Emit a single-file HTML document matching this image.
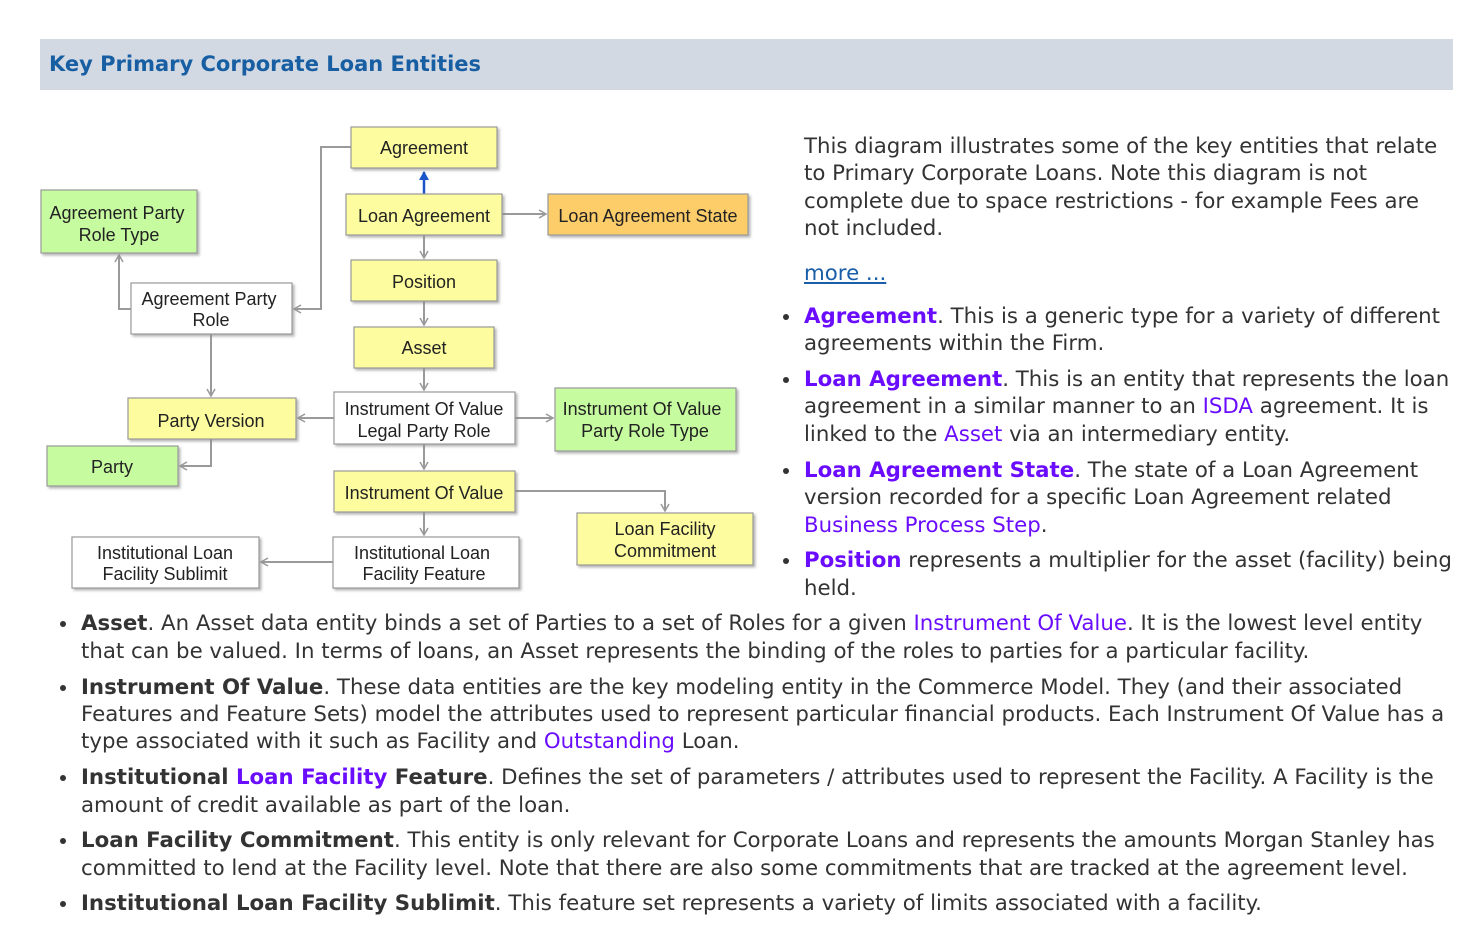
<!DOCTYPE html><html><head><style>
body{margin:0;width:1470px;height:951px;background:#fff;position:relative;overflow:hidden;font-family:"DejaVu Sans","Liberation Sans",sans-serif;color:#333}
.hdr{position:absolute;left:40px;top:39px;width:1413px;height:51px;background:#d3d9e2}
.hdr span{position:absolute;left:9px;top:13px;font-weight:bold;font-size:21px;color:#175ea3}
.l{position:absolute;white-space:nowrap;font-size:21.3px;line-height:25px}
.p{color:#6a0dff}.b{font-weight:bold}
.dot{position:absolute;width:6px;height:6px;border-radius:50%;background:#333}
</style></head><body>
<div class="hdr"><span>Key Primary Corporate Loan Entities</span></div>
<svg width="760" height="600" style="position:absolute;left:0;top:0" font-family="Liberation Sans,Arial,sans-serif" font-size="18" fill="#222">
<defs><filter id="s"><feDropShadow dx="2" dy="2" stdDeviation="1.2" flood-color="#888" flood-opacity="0.6"/></filter>
<marker id="a" markerWidth="10" markerHeight="10" refX="8" refY="5" orient="auto" markerUnits="userSpaceOnUse"><path d="M1,1 L8,5 L1,9" fill="none" stroke="#999" stroke-width="1.5"/></marker>
<marker id="ab" markerWidth="10" markerHeight="10" refX="8" refY="5" orient="auto" markerUnits="userSpaceOnUse"><path d="M0,0 L9,5 L0,10z" fill="#1a56c8"/></marker></defs>
<g stroke="#9a9a9a" stroke-width="2" fill="none">
<polyline points="351,147 321,147 321,309 294,309" marker-end="url(#a)"/>
<polyline points="131,309 119,309 119,255" marker-end="url(#a)"/>
<polyline points="211,334 211,396" marker-end="url(#a)"/>
<polyline points="211,439 211,466 180,466" marker-end="url(#a)"/>
<polyline points="334,418 298,418" marker-end="url(#a)"/>
<polyline points="515,418 553,418" marker-end="url(#a)"/>
<polyline points="502,214 546,214" marker-end="url(#a)"/>
<polyline points="424,235 424,258" marker-end="url(#a)"/>
<polyline points="424,301 424,325" marker-end="url(#a)"/>
<polyline points="424,368 424,390" marker-end="url(#a)"/>
<polyline points="424,444 424,469" marker-end="url(#a)"/>
<polyline points="424,512 424,535" marker-end="url(#a)"/>
<polyline points="515,491 665,491 665,511" marker-end="url(#a)"/>
<polyline points="333,562 261,562" marker-end="url(#a)"/>
</g>
<line x1="424" y1="194" x2="424" y2="172" stroke="#1a56c8" stroke-width="2.5" marker-end="url(#ab)"/>
<g stroke="#999" stroke-width="1.2" filter="url(#s)">
<rect x="351" y="127" width="146" height="41" fill="#fdfd9f"/>
<rect x="346" y="194" width="156" height="41" fill="#fdfd9f"/>
<rect x="548" y="194" width="200" height="41" fill="#fdcd6b"/>
<rect x="351" y="260" width="146" height="41" fill="#fdfd9f"/>
<rect x="354" y="327" width="140" height="41" fill="#fdfd9f"/>
<rect x="41" y="190" width="156" height="63" fill="#c6fba0"/>
<rect x="131" y="283" width="161" height="51" fill="#fff"/>
<rect x="128" y="398" width="168" height="41" fill="#fdfd9f"/>
<rect x="47" y="446" width="131" height="40" fill="#c6fba0"/>
<rect x="334" y="392" width="181" height="52" fill="#fff"/>
<rect x="555" y="388" width="181" height="63" fill="#c6fba0"/>
<rect x="334" y="471" width="181" height="41" fill="#fdfd9f"/>
<rect x="577" y="513" width="176" height="52" fill="#fdfd9f"/>
<rect x="72" y="537" width="187" height="51" fill="#fff"/>
<rect x="333" y="537" width="186" height="51" fill="#fff"/>
</g>
<g text-anchor="middle">
<text x="424" y="154">Agreement</text>
<text x="424" y="222">Loan Agreement</text>
<text x="648" y="222">Loan Agreement State</text>
<text x="424" y="288">Position</text>
<text x="424" y="354">Asset</text>
<text x="117" y="219">Agreement Party</text><text x="119" y="241">Role Type</text>
<text x="209" y="305">Agreement Party</text><text x="211" y="326">Role</text>
<text x="211" y="427">Party Version</text>
<text x="112" y="473">Party</text>
<text x="424" y="415">Instrument Of Value</text><text x="424" y="437">Legal Party Role</text>
<text x="642" y="415">Instrument Of Value</text><text x="645" y="437">Party Role Type</text>
<text x="424" y="499">Instrument Of Value</text>
<text x="665" y="535">Loan Facility</text><text x="665" y="557">Commitment</text>
<text x="165" y="559">Institutional Loan</text><text x="165" y="580">Facility Sublimit</text>
<text x="422" y="559">Institutional Loan</text><text x="424" y="580">Facility Feature</text>
</g></svg>

<div class="l" style="left:804px;top:134px">This diagram illustrates some of the key entities that relate</div>
<div class="l" style="left:804px;top:161px">to Primary Corporate Loans. Note this diagram is not</div>
<div class="l" style="left:804px;top:189px">complete due to space restrictions - for example Fees are</div>
<div class="l" style="left:804px;top:216px">not included.</div>
<div class="l" style="left:804px;top:261px;color:#1a5ea8;text-decoration:underline">more ...</div>

<div class="dot" style="left:783px;top:314px"></div>
<div class="l" style="left:804px;top:304px"><span class="p b">Agreement</span>. This is a generic type for a variety of different</div>
<div class="l" style="left:804px;top:331px">agreements within the Firm.</div>
<div class="dot" style="left:783px;top:377px"></div>
<div class="l" style="left:804px;top:367px"><span class="p b">Loan Agreement</span>. This is an entity that represents the loan</div>
<div class="l" style="left:804px;top:394px">agreement in a similar manner to an <span class="p">ISDA</span> agreement. It is</div>
<div class="l" style="left:804px;top:422px">linked to the <span class="p">Asset</span> via an intermediary entity.</div>
<div class="dot" style="left:783px;top:468px"></div>
<div class="l" style="left:804px;top:458px"><span class="p b">Loan Agreement State</span>. The state of a Loan Agreement</div>
<div class="l" style="left:804px;top:485px">version recorded for a specific Loan Agreement related</div>
<div class="l" style="left:804px;top:513px"><span class="p">Business Process Step</span>.</div>
<div class="dot" style="left:783px;top:558px"></div>
<div class="l" style="left:804px;top:548px"><span class="p b">Position</span> represents a multiplier for the asset (facility) being</div>
<div class="l" style="left:804px;top:576px">held.</div>

<div class="dot" style="left:60px;top:621px"></div>
<div class="l" style="left:81px;top:611px"><span class="b">Asset</span>. An Asset data entity binds a set of Parties to a set of Roles for a given <span class="p">Instrument Of Value</span>. It is the lowest level entity</div>
<div class="l" style="left:81px;top:639px">that can be valued. In terms of loans, an Asset represents the binding of the roles to parties for a particular facility.</div>
<div class="dot" style="left:60px;top:685px"></div>
<div class="l" style="left:81px;top:675px"><span class="b">Instrument Of Value</span>. These data entities are the key modeling entity in the Commerce Model. They (and their associated</div>
<div class="l" style="left:81px;top:702px">Features and Feature Sets) model the attributes used to represent particular financial products. Each Instrument Of Value has a</div>
<div class="l" style="left:81px;top:729px">type associated with it such as Facility and <span class="p">Outstanding</span> Loan.</div>
<div class="dot" style="left:60px;top:775px"></div>
<div class="l" style="left:81px;top:765px"><span class="b">Institutional <span class="p">Loan Facility</span> Feature</span>. Defines the set of parameters / attributes used to represent the Facility. A Facility is the</div>
<div class="l" style="left:81px;top:793px">amount of credit available as part of the loan.</div>
<div class="dot" style="left:60px;top:838px"></div>
<div class="l" style="left:81px;top:828px"><span class="b">Loan Facility Commitment</span>. This entity is only relevant for Corporate Loans and represents the amounts Morgan Stanley has</div>
<div class="l" style="left:81px;top:856px">committed to lend at the Facility level. Note that there are also some commitments that are tracked at the agreement level.</div>
<div class="dot" style="left:60px;top:901px"></div>
<div class="l" style="left:81px;top:891px"><span class="b">Institutional Loan Facility Sublimit</span>. This feature set represents a variety of limits associated with a facility.</div>
</body></html>
